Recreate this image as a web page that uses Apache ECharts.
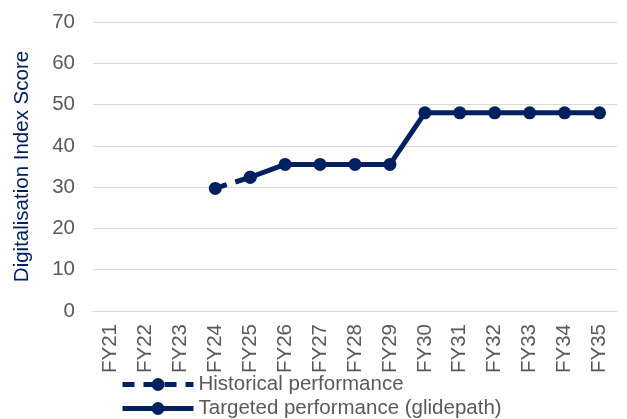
<!DOCTYPE html>
<html>
<head>
<meta charset="utf-8">
<script src="https://cdn.jsdelivr.net/npm/echarts@6/dist/echarts.min.js"></script>
<style>
  html, body { margin: 0; padding: 0; background: #fff; }
  #chart { width: 627px; height: 419px; }
</style>
</head>
<body>
<div id="chart"></div>
<script>
// Fiscal years on the category axis
const years = ['FY21','FY22','FY23','FY24','FY25','FY26','FY27','FY28','FY29','FY30','FY31','FY32','FY33','FY34','FY35'];
// Actual index scores recorded so far
const historical = [null, null, null, 29.7, 32.4, null, null, null, null, null, null, null, null, null, null];
// Planned glidepath of index scores
const targeted = [null, null, null, null, 32.4, 35.5, 35.5, 35.5, 35.5, 48, 48, 48, 48, 48, 48];
// Value axis ticks
const yMin = 0, yMax = 70, yStep = 10;

const navy = '#002060';
const grey = '#595959';
const font = 'Liberation Sans, Arial, sans-serif';
const fs = 20.5;

// One legend row per series, stacked under the axis labels
function legendRow(name, top) {
  return {
    left: 120,
    top: top,
    itemWidth: 71,
    itemHeight: 16,
    itemGap: 0,
    padding: 0,
    lineStyle: { width: 5 },
    textStyle: { fontFamily: font, fontSize: fs, color: grey, padding: [0, 0, 0, 0] },
    data: [name]
  };
}

const chart = echarts.init(document.getElementById('chart'));
chart.setOption({
  animation: false,
  grid: { left: 93, right: 10, top: 22, bottom: 108 },
  legend: [
    legendRow('Historical performance', 374),
    legendRow('Targeted performance (glidepath)', 398)
  ],
  xAxis: {
    type: 'category',
    data: years,
    boundaryGap: true,
    axisLine: { show: true, lineStyle: { color: '#d9d9d9', width: 1 } },
    axisTick: { show: false },
    axisLabel: { rotate: 90, color: grey, fontFamily: font, fontSize: fs, margin: 13 }
  },
  yAxis: {
    type: 'value',
    min: yMin, max: yMax, interval: yStep,
    name: 'Digitalisation Index Score',
    nameLocation: 'middle',
    nameGap: 60,
    nameTextStyle: { color: navy, fontFamily: font, fontSize: fs },
    axisLine: { show: false },
    axisTick: { show: false },
    axisLabel: { color: grey, fontFamily: font, fontSize: fs, margin: 18 },
    splitLine: { lineStyle: { color: '#d9d9d9', width: 1 } }
  },
  series: [
    {
      name: 'Historical performance',
      type: 'line',
      data: historical,
      connectNulls: false,
      symbol: 'circle',
      symbolSize: 13,
      itemStyle: { color: navy },
      lineStyle: { color: navy, width: 5, type: [12, 9] }
    },
    {
      name: 'Targeted performance (glidepath)',
      type: 'line',
      data: targeted,
      symbol: 'circle',
      symbolSize: 13,
      itemStyle: { color: navy },
      lineStyle: { color: navy, width: 5 }
    }
  ]
});
</script>
</body>
</html>
